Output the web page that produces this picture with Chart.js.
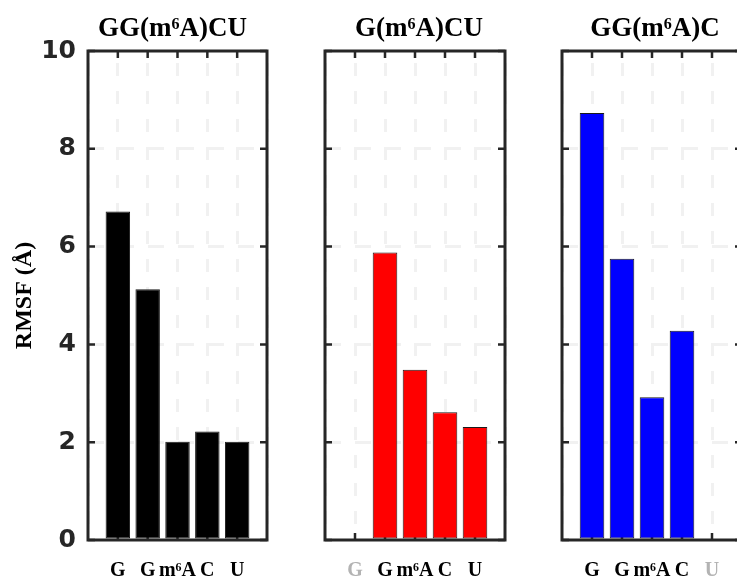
<!DOCTYPE html>
<html>
<head>
<meta charset="utf-8">
<script src="https://cdn.jsdelivr.net/npm/chart.js@4/dist/chart.umd.min.js"></script>
<style>
  html, body { margin: 0; padding: 0; background: #fff; overflow: hidden; }
  body { width: 737px; height: 578px; position: relative; }
  canvas { position: absolute; top: 0; }
</style>
</head>
<body>
<canvas id="c1" width="345" height="578" style="left:0px"></canvas>
<canvas id="c2" width="238" height="578" style="left:300px"></canvas>
<canvas id="c3" width="236" height="578" style="left:537px"></canvas>
<script>
const panelTitles = ['GG(m\u2076A)CU', 'G(m\u2076A)CU', 'GG(m\u2076A)C'];
const baseLabels = ['G', 'G', 'm\u2076A', 'C', 'U'];
const rmsfBlack = [6.72, 5.13, 2.01, 2.22, 2.01];
const rmsfRed = [null, 5.88, 3.48, 2.61, 2.31];
const rmsfBlue = [8.73, 5.75, 2.92, 4.28, null];
const yTicks = [0, 2, 4, 6, 8, 10];

const axisColor = '#262626';
const gridColor = '#f1f1f1';
const serif = '"Liberation Serif", "DejaVu Serif", serif';

// box around the plot with inward ticks, like matlab
const boxPlugin = {
    id: 'box',
    beforeDatasetsDraw(chart) {
        const { ctx, chartArea: a, scales } = chart;
        ctx.save();
        ctx.strokeStyle = axisColor;
        ctx.lineWidth = 2.5;
        ctx.beginPath();
        yTicks.forEach(v => {
            const y = scales.y.getPixelForValue(v);
            ctx.moveTo(a.left, y); ctx.lineTo(a.left + 7, y);
            ctx.moveTo(a.right, y); ctx.lineTo(a.right - 7, y);
        });
        baseLabels.forEach((l, i) => {
            const x = scales.x.getPixelForValue(i + 1);
            ctx.moveTo(x, a.top); ctx.lineTo(x, a.top + 7);
            ctx.moveTo(x, a.bottom); ctx.lineTo(x, a.bottom - 7);
        });
        ctx.stroke();
        ctx.restore();
    },
    afterDatasetsDraw(chart) {
        const { ctx, chartArea: a } = chart;
        ctx.save();
        ctx.strokeStyle = axisColor;
        ctx.lineWidth = 3;
        ctx.strokeRect(a.left, a.top, a.right - a.left, a.bottom - a.top);
        ctx.restore();
    }
};

// leftW / rightW: room kept on each side of the plot box so the title sits where it should
function makePanel(id, title, values, color, showY, leftW, rightW) {
    const points = values.map((v, i) => ({ x: i + 1, y: v })).filter(p => p.y !== null);
    new Chart(document.getElementById(id), {
        type: 'bar',
        data: {
            datasets: [{
                data: points,
                backgroundColor: color,
                borderColor: '#1a1a1a',
                borderWidth: 1,
                borderSkipped: false,
                barPercentage: 0.82,
                categoryPercentage: 1
            }]
        },
        options: {
            responsive: false,
            animation: false,
            devicePixelRatio: 1,
            layout: { padding: 0 },
            plugins: {
                legend: { display: false },
                tooltip: { enabled: false },
                title: {
                    display: true,
                    text: title,
                    color: '#000',
                    font: { family: serif, size: 27, weight: 'bold', lineHeight: 1.2 },
                    padding: { top: 13, bottom: 5.6 }
                }
            },
            scales: {
                x: {
                    type: 'linear',
                    min: 0,
                    max: 6,
                    offset: false,
                    afterFit: s => { s.height = 38; },
                    grid: { color: gridColor, lineWidth: 3, drawTicks: false, offset: false },
                    border: { display: false, dash: [13, 15], dashOffset: -12 },
                    ticks: {
                        stepSize: 1,
                        autoSkip: false,
                        maxRotation: 0,
                        padding: 19,
                        callback: v => baseLabels[v - 1] || '',
                        color: c => (values[c.tick.value - 1] === null ? '#b3b3b3' : '#000'),
                        font: { family: serif, size: 20, weight: 'bold' }
                    }
                },
                y: {
                    min: 0,
                    max: 10,
                    afterFit: s => { s.width = leftW; },
                    grid: { color: c => (c.tick.value === 0 || c.tick.value === 10 ? 'rgba(0,0,0,0)' : gridColor), lineWidth: 3, drawTicks: false },
                    border: { display: false, dash: [16, 14] },
                    ticks: {
                        display: showY,
                        stepSize: 2,
                        padding: 12,
                        color: axisColor,
                        font: { family: '"DejaVu Sans", sans-serif', size: 25, weight: 'bold' }
                    },
                    title: {
                        display: showY,
                        text: 'RMSF (\u00c5)',
                        color: '#000',
                        padding: { top: 10, bottom: 0 },
                        font: { family: serif, size: 24, weight: 'bold' }
                    }
                },
                yRight: {
                    position: 'right',
                    min: 0,
                    max: 10,
                    afterFit: s => { s.width = rightW; },
                    grid: { display: false },
                    border: { display: false },
                    ticks: { display: false }
                }
            }
        },
        plugins: [boxPlugin]
    });
}

makePanel('c1', panelTitles[0], rmsfBlack, '#000000', true, 88, 78);
makePanel('c2', panelTitles[1], rmsfRed, '#ff0000', false, 25, 33);
makePanel('c3', panelTitles[2], rmsfBlue, '#0000ff', false, 25, 31);
</script>
</body>
</html>
